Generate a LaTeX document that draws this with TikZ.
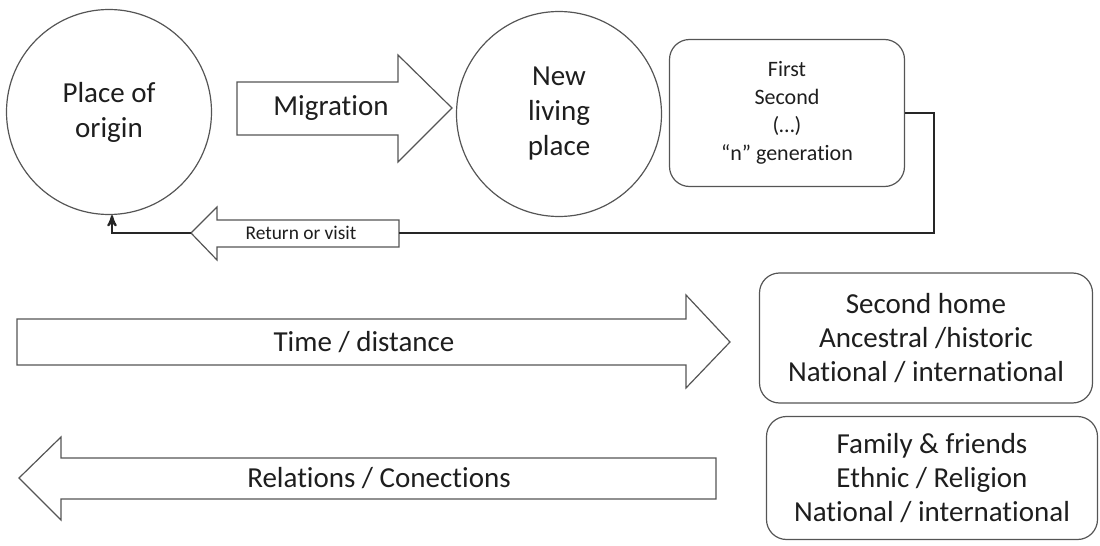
\documentclass[tikz,border=0pt]{standalone}
\usepackage{fontspec}
\setmainfont{Carlito}[Ligatures={TeX,NoCommon}]
\usepackage{tikz}
\usetikzlibrary{arrows}
\usetikzlibrary{positioning}

\definecolor{edgegray}{RGB}{85,85,85}
\definecolor{inkgray}{RGB}{30,30,30}

\begin{document}
\begin{tikzpicture}[x=0.5pt,y=-0.5pt,>=stealth',
    place node/.style={circle,draw=edgegray,line width=0.6pt,minimum size=102.5pt,inner sep=0pt,
      align=center,text=inkgray,font=\fontsize{14.5}{17.5}\selectfont},
    list node/.style={rectangle,rounded corners=10pt,draw=edgegray,line width=0.6pt,inner sep=0pt,
      align=center,text=inkgray,font=\fontsize{14.5}{17}\selectfont},
    block arrow/.style={draw=edgegray,line width=0.6pt,fill=white},
    label node/.style={text=inkgray,font=\fontsize{14.5}{17.5}\selectfont},
    link/.style={draw=black!85,line width=1pt}]

  \useasboundingbox (0,0) rectangle (1100,546);

  % top row
  \node[place node] (origin) at (109,112) {Place of\\origin};
  \node[place node] (newplace) at (559,114) {New\\living\\place};
  \node[list node,minimum width=117.5pt,minimum height=73.5pt,
        font=\fontsize{11}{14}\selectfont] (gen) at (787,113)
        {First\\Second\\(…)\\“n” generation};

  \draw[block arrow] (237,82) -- (398,82) -- (398,55) -- (452,108) -- (398,162) -- (398,135) -- (237,135) -- cycle;
  \node[label node] (migr) at (331,108) {Migration};

  % way back
  \draw[block arrow] (399,220) -- (217,220) -- (217,207) -- (191,233) -- (217,260) -- (217,247) -- (399,247) -- cycle;
  \coordinate (rettail) at (399,233);
  \coordinate (rettip) at (191,233);
  \node[label node,font=\fontsize{9.7}{12}\selectfont] (ret) at (301,233) {Return or visit};

  \draw[link] (gen.east) -- ++(29,0) |- (rettail);
  \draw[link,->] (rettip) -| ([xshift=1.5pt]origin.south);

  % lower rows
  \draw[block arrow] (17,319) -- (686,319) -- (686,295) -- (730,342) -- (686,388) -- (686,365) -- (17,365) -- cycle;
  \node[label node] (time) at (364,342) {Time / distance};
  \node[list node,minimum width=166.5pt,minimum height=65pt] (home) at (926,338)
        {Second home\\Ancestral /historic\\National / international};

  \draw[block arrow] (716,458) -- (61,458) -- (61,437) -- (19,478) -- (61,520) -- (61,499) -- (716,499) -- cycle;
  \node[label node] (rel) at (379,478) {Relations / Conections};
  \node[list node,minimum width=165.5pt,minimum height=61.5pt] (ties) at (932,478)
        {Family \& friends\\Ethnic / Religion\\National / international};
\end{tikzpicture}
\end{document}
